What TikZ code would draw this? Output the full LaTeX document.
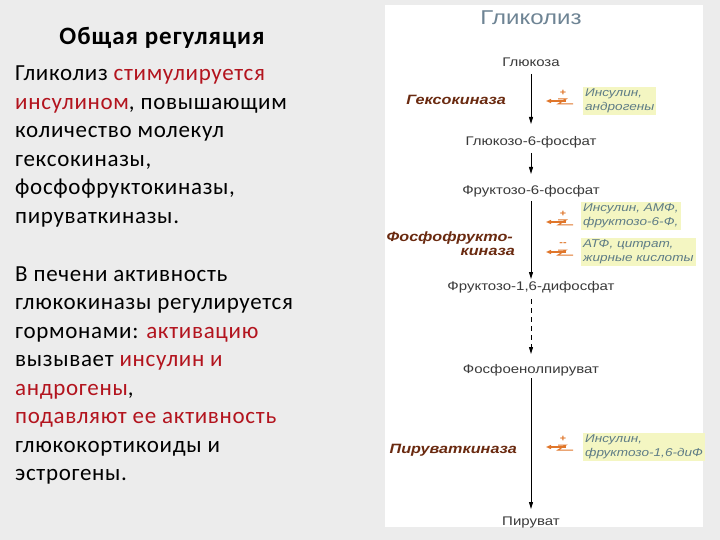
\documentclass[tikz,border=0pt]{standalone}
\usepackage{fontspec}
\setmainfont{Carlito}
\newfontfamily\lfnt[LetterSpace=3]{Carlito}
\newfontfamily\hfnt[LetterSpace=4]{Carlito}
\newfontfamily\rsans[FakeStretch=1.2]{Liberation Sans}
\usetikzlibrary{arrows.meta}
\definecolor{bg}{HTML}{ECECEC}
\definecolor{rd}{HTML}{B3141E}
\definecolor{enz}{HTML}{6A2A10}
\definecolor{eff}{HTML}{5E7C86}
\definecolor{yel}{HTML}{F4F6C2}
\definecolor{org}{HTML}{E0762A}
\definecolor{ttl}{HTML}{6E8494}
\definecolor{met}{HTML}{3A3A3A}
\tikzset{
  lt/.style={anchor=base west, inner sep=0pt, font=\lfnt\fontsize{23}{26}\selectfont},
  met/.style={inner sep=0pt, text=met, font=\rsans\fontsize{12.5}{14}\selectfont},
  enzl/.style={inner sep=0pt, text=enz, font=\rsans\bfseries\itshape\fontsize{13.5}{15}\selectfont},
  effl/.style={fill=yel, inner sep=2pt, text=eff, align=left, font=\rsans\itshape\fontsize{11.3}{13.5}\selectfont},
  flow/.style={draw=black, line width=0.9pt, -{Triangle[length=7pt,width=4pt]}},
  regar/.style={draw=org, line width=1.3pt, -{Triangle[length=5pt,width=4pt]}},
  regz/.style={draw=org, line width=1pt},
}
\newcommand{\regsym}[3]{%
  \draw[regar] (566,#2) -- (546,#2);
  \draw[regz] (558,#2-2) -- (566,#2-2) -- (558,#2+3) -- (573,#2+3);
  \node[inner sep=0pt, text=org, font=\rsans\bfseries\fontsize{9}{9}\selectfont] at (563,#2-8) {#3};
}
\begin{document}
\begin{tikzpicture}[x=1pt,y=-1pt]
\path[use as bounding box, fill=bg] (0,0) rectangle (720,540);
\fill[white] (385,5) rectangle (703,527);
% left text
\node[anchor=base, inner sep=0pt, font=\hfnt\fontsize{25}{28}\selectfont\bfseries] (hd) at (162,45) {Общая регуляция};
\node[lt] (l1) at (15,81) {Гликолиз \textcolor{rd}{стимулируется}};
\node[lt] (l2) at (15,109.5) {\textcolor{rd}{инсулином}, повышающим};
\node[lt] (l3) at (15,138) {количество молекул};
\node[lt] (l4) at (15,166.5) {гексокиназы,};
\node[lt] (l5) at (15,195) {фосфофруктокиназы,};
\node[lt] (l6) at (15,223.5) {пируваткиназы.};
\node[lt] (m1) at (15,281) {В печени активность};
\node[lt] (m2) at (15,309.5) {глюкокиназы регулируется};
\node[lt] (m3) at (15,338) {гормонами: \textcolor{rd}{активацию}};
\node[lt] (m4) at (15,366.5) {вызывает \textcolor{rd}{инсулин и}};
\node[lt] (m5) at (15,395) {\textcolor{rd}{андрогены},};
\node[lt] (m6) at (15,423.5) {\textcolor{rd}{подавляют ее активность}};
\node[lt] (m7) at (15,452) {глюкокортикоиды и};
\node[lt] (m8) at (15,480.5) {эстрогены.};
% right panel
\node[inner sep=0pt, text=ttl, font=\rsans\fontsize{20}{22}\selectfont] (title) at (531,18) {Гликолиз};
\node[met] (glc) at (531,62) {Глюкоза};
\node[met] (g6p) at (531,142) {Глюкозо-6-фосфат};
\node[met] (f6p) at (531,191) {Фруктозо-6-фосфат};
\node[met] (f16) at (531,287) {Фруктозо-1,6-дифосфат};
\node[met] (pep) at (531,370) {Фосфоенолпируват};
\node[met] (pyr) at (531,522) {Пируват};
\draw[flow] (531,74) coordinate (a1) -- (531,124) coordinate (a1e);
\draw[flow] (531,153) coordinate (a2) -- (531,174) coordinate (a2e);
\draw[flow] (531,201) coordinate (a3) -- (531,279) coordinate (a3e);
\draw[flow, dash pattern=on 5pt off 4pt] (531,299) coordinate (a4) -- (531,354) coordinate (a4e);
\draw[flow] (531,378) coordinate (a5) -- (531,509) coordinate (a5e);
% enzymes
\node[enzl, anchor=east] (hk) at (506,100) {Гексокиназа};
\node[enzl, anchor=east] (pfk1) at (513,238) {Фосфофрукто-};
\node[enzl, anchor=east] (pfk2) at (515,252) {киназа};
\node[enzl, anchor=east] (pk) at (517,450) {Пируваткиназа};
% effectors
\regsym{0}{101}{+}
\regsym{0}{222}{+}
\regsym{0}{252}{--}
\regsym{0}{447}{+}
\node[effl, anchor=west] (e1) at (583,101) {Инсулин,\\андрогены};
\node[effl, anchor=west] (e2) at (581,216) {Инсулин, АМФ,\\фруктозо-6-Ф,};
\node[effl, anchor=west] (e3) at (581,252) {АТФ, цитрат,\\жирные кислоты};
\node[effl, anchor=west] (e4) at (583,447) {Инсулин,\\фруктозо-1,6-диФ};
\end{tikzpicture}
\end{document}
